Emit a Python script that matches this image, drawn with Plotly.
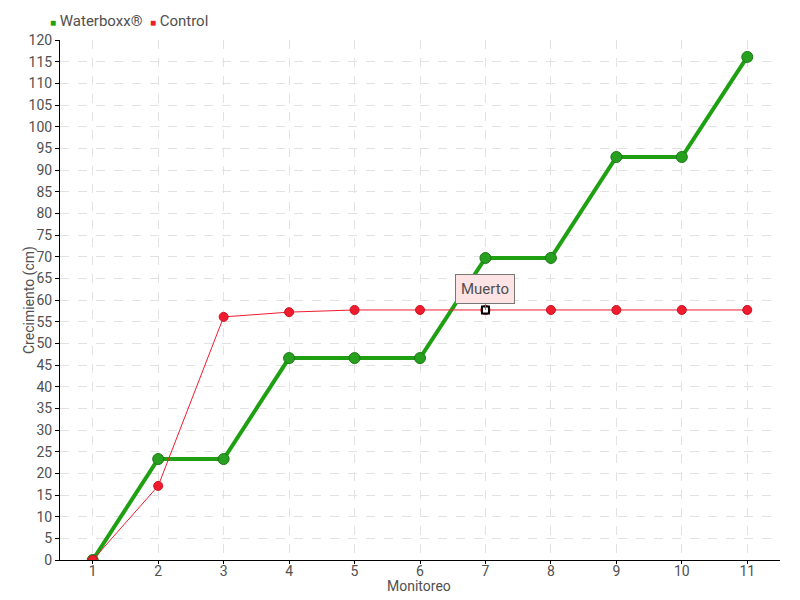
import plotly.graph_objects as go

monitoreo = [1, 2, 3, 4, 5, 6, 7, 8, 9, 10, 11]
waterboxx = [0, 23.3, 23.3, 46.6, 46.6, 46.6, 69.7, 69.7, 93.0, 93.0, 116.1]
control = [0, 17.1, 56.1, 57.2, 57.7, 57.7, 57.7, 57.7, 57.7, 57.7, 57.7]
muerto_idx = 6
y_ticks = list(range(0, 121, 5))

FONT = "Roboto, sans-serif"
GREEN = "#1fa012"
RED = "#ee1c2e"
TXT = "#505050"

fig = go.Figure()
fig.add_trace(go.Scatter(
    x=monitoreo, y=waterboxx, mode="lines+markers", name="Waterboxx®",
    line=dict(color=GREEN, width=4),
    marker=dict(color="#27a01f", size=11, line=dict(color="#1a7a14", width=1)),
    showlegend=False,
))
fig.add_trace(go.Scatter(
    x=monitoreo, y=control, mode="lines+markers", name="Control",
    line=dict(color=RED, width=1),
    marker=dict(color=RED, size=9, line=dict(color="#d01020", width=1)),
    showlegend=False,
))
fig.add_trace(go.Scatter(
    x=[monitoreo[muerto_idx]], y=[control[muerto_idx]], mode="markers", name="Muerto",
    marker=dict(color="white", size=7, symbol="square", line=dict(color="black", width=2)),
    showlegend=False, hoverinfo="skip",
))

fig.add_annotation(
    x=monitoreo[muerto_idx], y=control[muerto_idx], text="Muerto",
    showarrow=True, arrowhead=0, arrowwidth=1, arrowcolor="#777",
    ax=0, ay=-21, bgcolor="#fde3e3", bordercolor="#777", borderwidth=1,
    borderpad=5, font=dict(size=15, color=TXT, family=FONT),
)
# legend
fig.add_annotation(
    xref="paper", yref="paper", x=-12 / 720, y=(560 - 21) / 520, xanchor="left", yanchor="middle",
    showarrow=False,
    text=f"<span style='color:{GREEN};font-size:10px'>■</span> Waterboxx®  "
         f"<span style='color:{RED};font-size:10px'>■</span> Control",
    font=dict(size=15, color=TXT, family=FONT),
)
# axis titles
fig.add_annotation(
    xref="paper", yref="paper", x=(419 - 60) / 720, y=-26 / 520, xanchor="center", yanchor="middle",
    showarrow=False, text="Monitoreo", font=dict(size=14, color=TXT, family=FONT),
)
fig.add_annotation(
    xref="paper", yref="paper", x=-31 / 720, y=(560 - 300) / 520, xanchor="center", yanchor="middle",
    showarrow=False, text="Crecimiento (cm)", textangle=-90, font=dict(size=14, color=TXT, family=FONT),
)

# page body has an 8px margin, so the figure is offset by 8px
fig.update_layout(
    width=792, height=592,
    margin=dict(l=52, r=20, t=32, b=40, autoexpand=False),
    paper_bgcolor="white", plot_bgcolor="white",
    font=dict(family=FONT, size=14, color=TXT),
    showlegend=False,
)
fig.update_xaxes(
    range=[0.5, 11.5], tickvals=monitoreo, ticktext=[str(m) for m in monitoreo],
    showline=True, linecolor="black", linewidth=1,
    ticks="outside", ticklen=3, tickcolor="black",
    showgrid=True, gridcolor="#e2e2e2", griddash="dash", zeroline=False,
    tickfont=dict(size=14), ticklabelstandoff=-5,
)
fig.update_yaxes(
    range=[0, 120], tickvals=y_ticks, ticktext=[str(v) for v in y_ticks],
    showline=True, linecolor="black", linewidth=1,
    ticks="outside", ticklen=4, tickcolor="black",
    showgrid=True, gridcolor="#e2e2e2", griddash="dash", zeroline=False,
    tickfont=dict(size=14),
)

fig.write_html("out.html")
